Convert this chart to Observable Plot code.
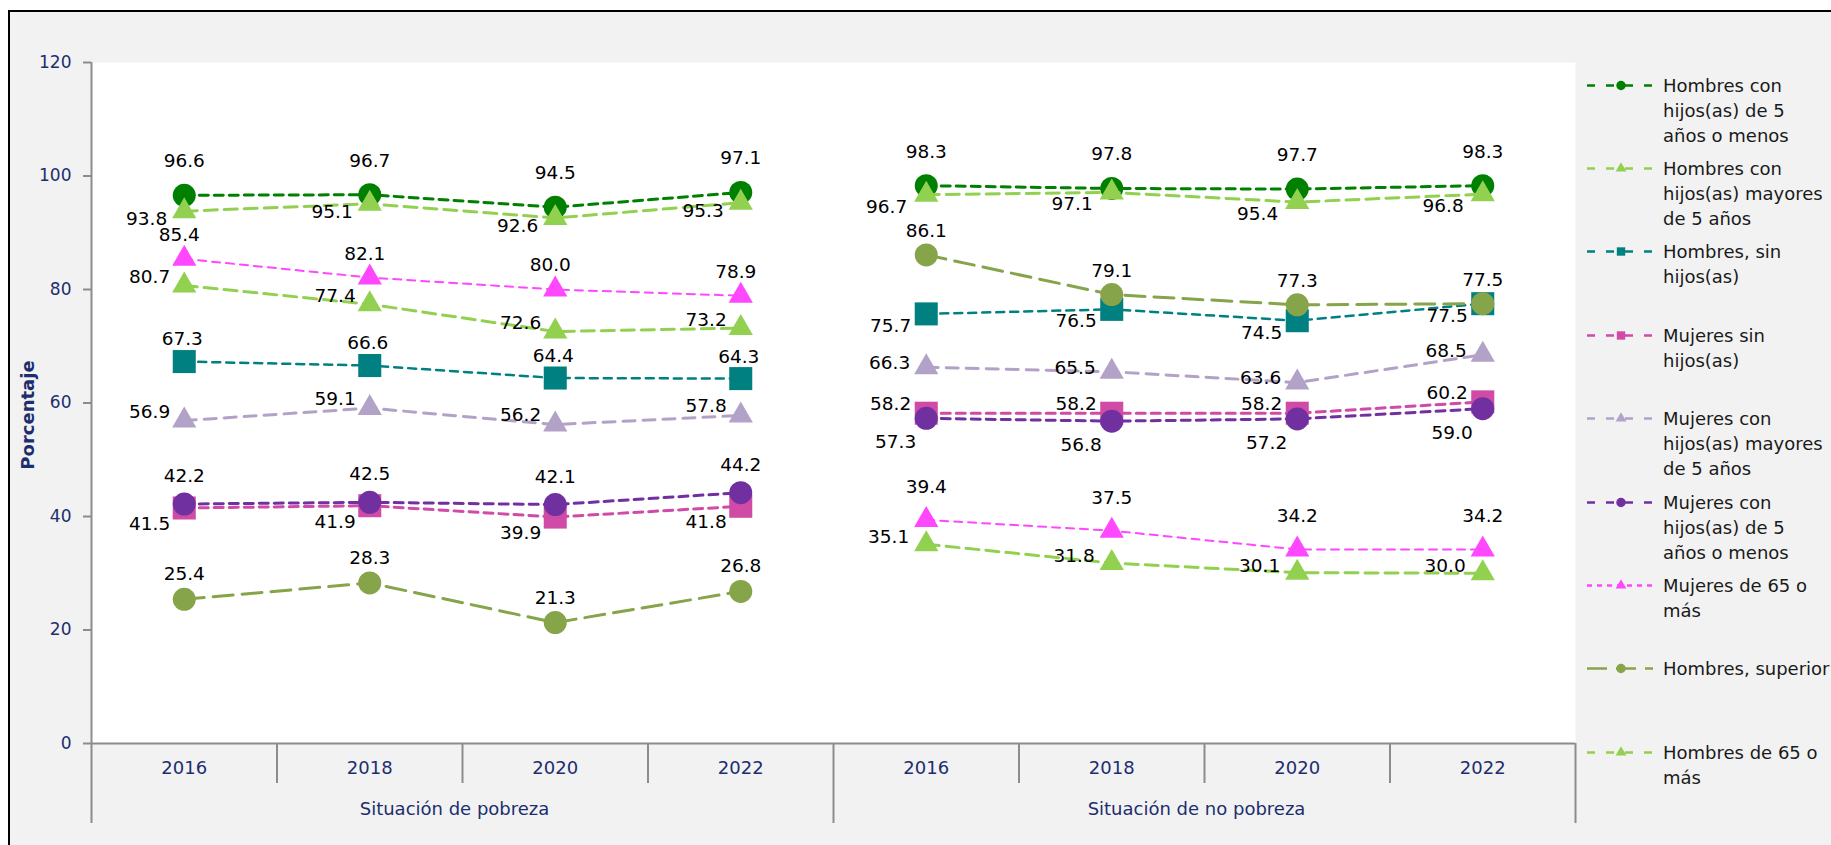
<!DOCTYPE html>
<html>
<head>
<meta charset="utf-8">
<script src="https://cdn.jsdelivr.net/npm/d3@7"></script>
<script src="https://cdn.jsdelivr.net/npm/@observablehq/plot@0.6"></script>
<style>
  html, body { margin: 0; padding: 0; background: #ffffff; width: 1831px; height: 845px; overflow: hidden; font-family: "DejaVu Sans", sans-serif; }
  #frame { position: absolute; left: 8px; top: 10px; width: 1900px; height: 900px; background: #f2f2f2; border-left: 2px solid #000; border-top: 2px solid #000; }
  #chart { position: absolute; left: 0; top: 0; }
  #legend { position: absolute; left: 0; top: 0; width: 1831px; height: 845px; overflow: hidden; }
  .entry { position: absolute; left: 1587px; height: 80px; width: 300px; }
  .entry svg { position: absolute; left: 0; top: 0; }
  .entry .txt { position: absolute; left: 76px; top: 0; font-size: 18px; line-height: 25px; color: #1a1a1a; white-space: nowrap; }
</style>
</head>
<body>
<div id="frame"></div>
<div id="chart"></div>
<div id="legend"></div>
<script>
// ---------- data ----------
const years = ["2016", "2018", "2020", "2022"];
const groups = ["Situación de pobreza", "Situación de no pobreza"];
const yTicks = [0, 20, 40, 60, 80, 100, 120];
const yTitle = "Porcentaje";

const seriesNames = [
  "Hombres con hijos(as) de 5 años o menos",
  "Hombres con hijos(as) mayores de 5 años",
  "Hombres, sin hijos(as)",
  "Mujeres sin hijos(as)",
  "Mujeres con hijos(as) mayores de 5 años",
  "Mujeres con hijos(as) de 5 años o menos",
  "Mujeres de 65 o más",
  "Hombres, superior",
  "Hombres de 65 o más"
];
const legendLines = [
  ["Hombres con", "hijos(as) de 5", "años o menos"],
  ["Hombres con", "hijos(as) mayores", "de 5 años"],
  ["Hombres, sin", "hijos(as)"],
  ["Mujeres sin", "hijos(as)"],
  ["Mujeres con", "hijos(as) mayores", "de 5 años"],
  ["Mujeres con", "hijos(as) de 5", "años o menos"],
  ["Mujeres de 65 o", "más"],
  ["Hombres, superior"],
  ["Hombres de 65 o", "más"]
];

// values: 4 years in "pobreza", then 4 years in "no pobreza"
const hombresHijosMenores5 = [96.6, 96.7, 94.5, 97.1, 98.3, 97.8, 97.7, 98.3];
const hombresHijosMayores5 = [93.8, 95.1, 92.6, 95.3, 96.7, 97.1, 95.4, 96.8];
const hombresSinHijos      = [67.3, 66.6, 64.4, 64.3, 75.7, 76.5, 74.5, 77.5];
const mujeresSinHijos      = [41.5, 41.9, 39.9, 41.8, 58.2, 58.2, 58.2, 60.2];
const mujeresHijosMayores5 = [56.9, 59.1, 56.2, 57.8, 66.3, 65.5, 63.6, 68.5];
const mujeresHijosMenores5 = [42.2, 42.5, 42.1, 44.2, 57.3, 56.8, 57.2, 59.0];
const mujeres65            = [85.4, 82.1, 80.0, 78.9, 39.4, 37.5, 34.2, 34.2];
const hombresSuperior      = [25.4, 28.3, 21.3, 26.8, 86.1, 79.1, 77.3, 77.5];
const hombres65            = [80.7, 77.4, 72.6, 73.2, 35.1, 31.8, 30.1, 30.0];

const seriesValues = [
  hombresHijosMenores5, hombresHijosMayores5, hombresSinHijos, mujeresSinHijos,
  mujeresHijosMayores5, mujeresHijosMenores5, mujeres65, hombresSuperior, hombres65
];

// ---------- styles (kept apart from data) ----------
const navy = "#1c2e6e";
const axisGray = "#8c8c8c";
const seriesStyles = [
  {color: "#008000", symbol: "circle",   r: 11.5, dash: "9,6",  width: 3,   legendDash: "8,11"},
  {color: "#92d050", symbol: "triangle", r: 9,    dash: "13,7", width: 3,   legendDash: "8,11"},
  {color: "#008080", symbol: "square",   r: 13,   dash: "8,6",  width: 2.5, legendDash: "8,11"},
  {color: "#cf4ba6", symbol: "square",   r: 13,   dash: "9,6",  width: 3,   legendDash: "8,11"},
  {color: "#b3a2c7", symbol: "triangle", r: 9,    dash: "12,8", width: 3,   legendDash: "8,11"},
  {color: "#7030a0", symbol: "circle",   r: 11.5, dash: "9,6",  width: 3,   legendDash: "8,11"},
  {color: "#ff47ff", symbol: "triangle", r: 9,    dash: "8,6",  width: 2,   legendDash: "5,5"},
  {color: "#86a44a", symbol: "circle",   r: 11.5, dash: "20,9", width: 3,   legendDash: "20,9"},
  {color: "#92d050", symbol: "triangle", r: 9,    dash: "13,7", width: 3,   legendDash: "8,11"}
];
// label placement per series: [pobreza, no pobreza]
const labelPlacement = [
  [{a: "middle", dx: 0, dy: -34}, {a: "middle", dx: 0, dy: -34}],
  [{a: "end", dx: -17, dy: 8},    {a: "end", dx: -19, dy: 12}],
  [{a: "middle", dx: -2, dy: -22},{a: "end", dx: -15, dy: 12}],
  [{a: "end", dx: -14, dy: 16},   {a: "end", dx: -15, dy: -9}],
  [{a: "end", dx: -14, dy: -9},   {a: "end", dx: -16, dy: -4}],
  [{a: "middle", dx: 0, dy: -28}, {a: "end", dx: -10, dy: 24}],
  [{a: "middle", dx: -5, dy: -24},{a: "middle", dx: 0, dy: -33}],
  [{a: "middle", dx: 0, dy: -25}, {a: "middle", dx: 0, dy: -24}],
  [{a: "end", dx: -14, dy: -8},   {a: "end", dx: -17, dy: -7}]
];

// ---------- table ----------
const nCat = groups.length * years.length;
const catIdx = d3.range(nCat);
const rowsFor = (values, name) => values.map((value, k) => ({
  series: name, value, i: k,
  group: groups[Math.floor(k / years.length)],
  year: years[k % years.length]
}));
const seriesRows = seriesValues.map((v, s) => rowsFor(v, seriesNames[s]));

const bandBounds = d3.range(-0.5, nCat, 1).filter(b => b > -0.5 && (b + 0.5) % years.length !== 0);
const groupBounds = d3.range(groups.length + 1).map(g => g * years.length - 0.5);
const groupCenters = groups.map((g, gi) => gi * years.length + (years.length - 1) / 2);

// ---------- marks ----------
const marks = [
  Plot.frame({fill: "white", stroke: "none"}),
  Plot.ruleY([0], {stroke: axisGray, strokeWidth: 2}),
  Plot.ruleX([-0.5], {stroke: axisGray, strokeWidth: 2}),
  Plot.axisY(yTicks, {tickSize: 8, tickPadding: 12, stroke: axisGray, strokeWidth: 2, fill: navy, fontSize: 17, label: null}),
  Plot.text([yTitle], {frameAnchor: "left", text: d => d, rotate: -90, textAnchor: "middle", lineAnchor: "middle", dx: -63, dy: 12, fontWeight: "bold", fill: navy, fontSize: 18}),
  Plot.axisX(catIdx, {tickSize: 0, tickPadding: 18, tickFormat: i => years[i % years.length], fill: navy, fontSize: 18, label: null}),
  Plot.axisX(bandBounds, {tickSize: 40, tickFormat: () => "", stroke: axisGray, strokeWidth: 2, label: null}),
  Plot.axisX(groupBounds, {tickSize: 80, tickFormat: () => "", stroke: axisGray, strokeWidth: 2, label: null}),
  Plot.axisX(groupCenters, {tickSize: 0, tickPadding: 59, dx: -8, tickFormat: v => groups[Math.floor(v / years.length)], fill: navy, fontSize: 18, label: null})
];

seriesRows.forEach((rows, s) => {
  const st = seriesStyles[s];
  marks.push(Plot.line(rows, {x: "i", y: "value", z: "group", stroke: st.color, strokeWidth: st.width, strokeDasharray: st.dash}));
  marks.push(Plot.dot(rows, {x: "i", y: "value", symbol: st.symbol, r: st.r, fill: st.color, stroke: "none"}));
});
seriesRows.forEach((rows, s) => {
  groups.forEach((g, gi) => {
    const p = labelPlacement[s][gi];
    marks.push(Plot.text(rows.filter(d => d.group === g), {
      x: "i", y: "value", text: d => d.value.toFixed(1),
      textAnchor: p.a, dx: p.dx, dy: p.dy, fill: "#000", fontSize: 18.5
    }));
  });
});

const chart = Plot.plot({
  width: 1831, height: 845,
  marginLeft: 91, marginRight: 256, marginTop: 62, marginBottom: 102,
  style: {background: "transparent", fontFamily: "DejaVu Sans", fontSize: "18px", overflow: "visible"},
  x: {type: "linear", domain: [-0.5, nCat - 0.5]},
  y: {domain: [0, 120]},
  marks
});
document.getElementById("chart").appendChild(chart);

// ---------- legend ----------
const legend = d3.select("#legend");
const symbolPath = (sym, size) => d3.symbol(sym === "circle" ? d3.symbolCircle : sym === "square" ? d3.symbolSquare : d3.symbolTriangle, size)();
seriesNames.forEach((name, s) => {
  const st = seriesStyles[s];
  const e = legend.append("div").attr("class", "entry").style("top", (72.5 + s * 83.4) + "px");
  const svg = e.append("svg").attr("width", 70).attr("height", 25);
  svg.append("line").attr("x1", 0).attr("x2", 66).attr("y1", 12.5).attr("y2", 12.5)
    .attr("stroke", st.color).attr("stroke-width", 2.5).attr("stroke-dasharray", st.legendDash);
  svg.append("path").attr("transform", "translate(34,12.5)")
    .attr("d", symbolPath(st.symbol, st.symbol === "triangle" ? 50 : 70)).attr("fill", st.color);
  const t = e.append("div").attr("class", "txt");
  legendLines[s].forEach(line => t.append("div").text(line));
});
</script>
</body>
</html>
